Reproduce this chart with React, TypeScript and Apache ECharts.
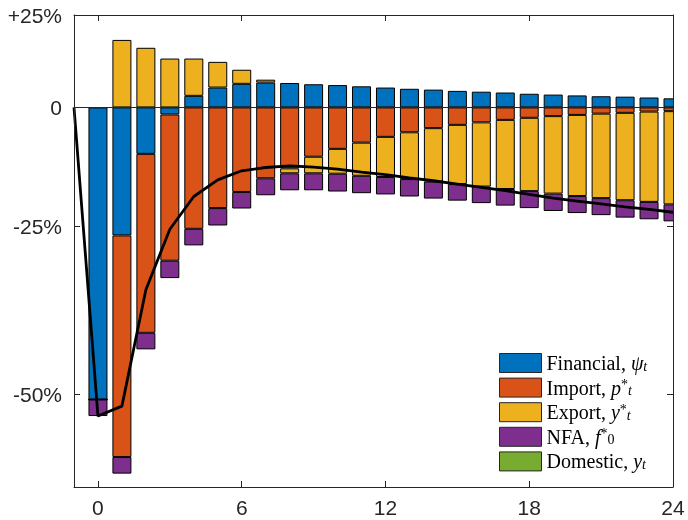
import { useEffect, useRef } from 'react';
import * as echarts from 'echarts';

// Horizon (periods) and contributions, in log points (log of level ratio)
const periods = [0, 1, 2, 3, 4, 5, 6, 7, 8, 9, 10, 11, 12, 13, 14, 15, 16, 17, 18, 19, 20, 21, 22, 23, 24];
const financial = [-0.705, -0.309, -0.112, -0.017, 0.028, 0.048, 0.057, 0.060, 0.059, 0.056, 0.054, 0.051, 0.048, 0.045, 0.043, 0.040, 0.038, 0.036, 0.033, 0.031, 0.029, 0.027, 0.026, 0.024, 0.022];
const importP = [0, -0.535, -0.432, -0.353, -0.293, -0.243, -0.204, -0.171, -0.147, -0.119, -0.100, -0.085, -0.071, -0.060, -0.050, -0.042, -0.036, -0.030, -0.025, -0.021, -0.018, -0.015, -0.013, -0.010, -0.009];
const exportY = [0, 0.163, 0.144, 0.118, 0.090, 0.062, 0.034, 0.007, -0.012, -0.040, -0.060, -0.080, -0.097, -0.113, -0.129, -0.143, -0.155, -0.167, -0.177, -0.187, -0.196, -0.204, -0.211, -0.218, -0.225];
const nfa = [-0.040, -0.040, -0.040, -0.042, -0.040, -0.042, -0.040, -0.041, -0.041, -0.041, -0.043, -0.042, -0.042, -0.042, -0.041, -0.040, -0.040, -0.040, -0.041, -0.042, -0.041, -0.041, -0.042, -0.042, -0.041];
const domestic = [0, 0, 0, 0, 0, 0, 0, 0, 0, 0, 0, 0, 0, 0, 0, 0, 0, 0, 0, 0, 0, 0, 0, 0, 0];

const seriesNames = ['Financial', 'Import', 'Export', 'NFA', 'Domestic'];
const legendLabels = [
  '{t|Financial, }{m|ψ}{sb|t}',
  '{t|Import, }{m|p}{sp|*}{sb|t}',
  '{t|Export, }{m|y}{sp|*}{sb|t}',
  '{t|NFA, }{m|f}{sp|*}{sb0|0}',
  '{t|Domestic, }{m|y}{sb|t}',
];
const colors = ['#0072BD', '#D95319', '#EDB120', '#7E2F8E', '#77AC30'];

const xTicks = [0, 6, 12, 18, 24];
const preStart = -1; // axis starts one period before the shock
const yTickLevels = [0.5, 0.75, 1, 1.25];
const yTickLabels = ['-50%', '-25%', '0', '+25%'];
const yRangeLevels = [0.4, 1.25];
const lineStartValue = 0;

const AX = '#262626';
const GRID = { left: 74, right: 15, top: 15, bottom: 33 };
const W = 688;
const H = 520;

export default function App() {
  const ref = useRef<HTMLDivElement>(null);
  useEffect(() => {
    if (!ref.current) return;
    const chart = echarts.init(ref.current, null, { renderer: 'svg' });
    const comps = [financial, importP, exportY, nfa, domestic];
    const cats = [String(preStart), ...periods.map(String)];
    const yTickVals = yTickLevels.map((l) => Math.log(l));
    const labelFor = (v: number) => {
      let best = 0;
      yTickVals.forEach((tv, i) => {
        if (Math.abs(tv - v) < Math.abs(yTickVals[best] - v)) best = i;
      });
      return yTickLabels[best];
    };
    const total = periods.map((_, i) => comps.reduce((s, c) => s + c[i], 0));
    const yMin = Math.log(yRangeLevels[0]);
    const yMax = Math.log(yRangeLevels[1]);
    const showTick = (_i: number, v: string) => xTicks.indexOf(Number(v)) >= 0;

    const barSeries = comps.map((arr, k) => ({
      type: 'bar',
      name: seriesNames[k],
      stack: 'total',
      barWidth: 19,
      data: ['-', ...arr],
      itemStyle: {
        color: colors[k],
        borderColor: '#000',
        borderWidth: k === 4 ? 0 : 1,
      },
      xAxisIndex: 0,
      yAxisIndex: 0,
      z: 2,
    }));

    const axisFont = { fontFamily: 'Liberation Sans', fontSize: 21, color: AX };
    const axisLineStyle = { show: true, onZero: false, lineStyle: { color: AX, width: 1 } };

    const option: any = {
      animation: false,
      grid: { ...GRID, containLabel: false },
      xAxis: [
        {
          type: 'category', data: cats, boundaryGap: false, position: 'bottom',
          axisLine: axisLineStyle,
          axisTick: { show: true, inside: true, length: 6, interval: showTick, lineStyle: { color: AX } },
          axisLabel: { show: true, interval: showTick, margin: 10, ...axisFont },
          splitLine: { show: false },
          z: 20,
        },
        {
          type: 'category', data: cats, boundaryGap: false, position: 'top',
          axisLine: axisLineStyle,
          axisTick: { show: true, inside: true, length: 6, interval: showTick, lineStyle: { color: AX } },
          axisLabel: { show: false },
          splitLine: { show: false },
          z: 20,
        },
      ],
      yAxis: [
        {
          type: 'value', min: yMin, max: yMax, position: 'left',
          axisLine: axisLineStyle,
          axisTick: { show: true, inside: true, length: 6, customValues: yTickVals, lineStyle: { color: AX } },
          axisLabel: { show: true, customValues: yTickVals, margin: 12, formatter: (v: number) => labelFor(v), ...axisFont },
          splitLine: { show: false },
          z: 20,
        },
        {
          type: 'value', min: yMin, max: yMax, position: 'right',
          axisLine: axisLineStyle,
          axisTick: { show: true, inside: true, length: 6, customValues: yTickVals, lineStyle: { color: AX } },
          axisLabel: { show: false },
          splitLine: { show: false },
          z: 20,
        },
      ],
      graphic: [
        {
          // hide the half of the last bar that lies beyond the right edge of the axes
          type: 'rect',
          z: 15,
          silent: true,
          shape: { x: W - GRID.right + 1, y: GRID.top - 5, width: GRID.right, height: H - GRID.top - GRID.bottom + 6 },
          style: { fill: '#fff' },
        },
      ],
      legend: {
        orient: 'vertical',
        left: 499,
        top: 353,
        padding: 0,
        itemWidth: 42,
        itemHeight: 19,
        itemGap: 4.6,
        icon: 'rect',
        data: seriesNames,
        itemStyle: { borderColor: AX, borderWidth: 1 },
        formatter: (name: string) => legendLabels[seriesNames.indexOf(name)],
        textStyle: {
          rich: {
            t: { fontFamily: 'Liberation Serif', fontSize: 20, lineHeight: 20, color: '#000' },
            m: { fontFamily: 'Liberation Serif', fontStyle: 'italic', fontSize: 20, lineHeight: 20, color: '#000' },
            sb: { fontFamily: 'Liberation Serif', fontStyle: 'italic', fontSize: 14, lineHeight: 10, verticalAlign: 'bottom', color: '#000' },
            sb0: { fontFamily: 'Liberation Serif', fontSize: 14, lineHeight: 10, verticalAlign: 'bottom', color: '#000' },
            sp: { fontFamily: 'Liberation Serif', fontSize: 14, lineHeight: 14, verticalAlign: 'top', color: '#000' },
          },
        },
      },
      series: [
        ...barSeries,
        {
          type: 'line',
          name: 'Total',
          data: [lineStartValue, ...total],
          showSymbol: false,
          symbol: 'none',
          lineStyle: { color: '#000', width: 2.8 },
          z: 5,
          markLine: {
            silent: true,
            symbol: 'none',
            label: { show: false },
            lineStyle: { color: AX, width: 1, type: 'solid' },
            data: [{ yAxis: 0 }],
          },
        },
      ],
    };
    chart.setOption(option);
    return () => chart.dispose();
  }, []);
  return <div ref={ref} style={{ position: 'fixed', left: 0, top: 0, width: W, height: H }} />;
}
